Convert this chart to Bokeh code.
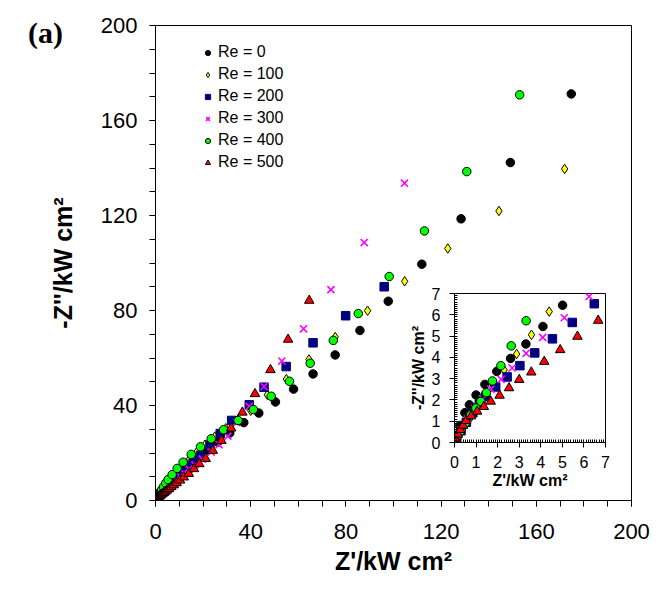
from bokeh.plotting import figure
from bokeh.models import Range1d, Legend, LegendItem, FixedTicker, Div
from bokeh.layouts import column
from bokeh.embed import file_html
from bokeh.resources import INLINE

# ---------------- data ----------------
labels = ["Re = 0", "Re = 100", "Re = 200", "Re = 300", "Re = 400", "Re = 500"]

re0_x = [0.05, 0.12, 0.25, 0.48, 0.69, 1.00, 1.41, 1.96, 2.60, 3.31, 4.10, 5.01, 6.1, 7.4, 8.9, 10.7, 12.8, 15.3,
         18.3, 21.9, 26.2, 31.2, 37.1, 43.4, 50.4, 58.0, 66.2, 75.5, 85.9, 97.8, 111.9, 128.4, 149.1, 174.7]
re0_y = [0.10, 0.35, 0.80, 1.40, 1.77, 2.23, 2.73, 3.34, 3.95, 4.63, 5.45, 6.45, 7.6, 9.0, 10.4, 12.1, 14.0, 16.1,
         18.5, 21.2, 24.6, 28.4, 32.8, 36.8, 41.5, 46.9, 53.3, 61.3, 71.6, 83.9, 99.5, 118.6, 142.3, 171.2]

re100_x = [0.15, 0.40, 0.70, 1.00, 1.35, 1.80, 2.30, 2.88, 3.57, 4.39, 5.4, 6.6, 8.0, 9.8, 11.8, 14.3, 17.3, 20.8,
           24.9, 29.5, 34.6, 40.0, 47.0, 55.0, 64.5, 75.5, 89.1, 104.7, 122.8, 144.3, 171.9]
re100_y = [0.30, 0.70, 1.10, 1.52, 2.00, 2.65, 3.41, 4.16, 5.06, 6.15, 7.4, 8.9, 10.6, 12.7, 14.9, 17.5, 20.4, 23.5,
           26.9, 30.4, 34.0, 37.8, 44.5, 51.1, 59.4, 68.8, 79.9, 92.3, 106.1, 121.9, 139.6]

re200_x = [0.10, 0.30, 0.55, 0.85, 1.15, 1.45, 1.91, 2.44, 3.03, 3.72, 4.54, 5.46, 6.48, 7.7, 9.2, 11.0, 13.2, 15.8,
           18.9, 22.9, 27.2, 32.0, 39.4, 45.6, 54.9, 66.2, 79.9, 96.1]
re200_y = [0.20, 0.55, 0.95, 1.40, 1.80, 2.18, 2.61, 3.08, 3.61, 4.21, 4.87, 5.64, 6.52, 7.7, 9.2, 11.0, 13.2, 15.8,
           19.0, 23.3, 28.2, 33.7, 40.3, 47.7, 56.4, 66.4, 77.8, 90.0]

re300_x = [0.10, 0.30, 0.60, 0.95, 1.30, 1.68, 2.16, 2.67, 3.32, 4.09, 5.09, 6.24, 7.4, 8.7, 10.2, 12.0, 14.1, 16.6,
           19.7, 23.4, 26.7, 30.4, 34.1, 39.4, 45.6, 53.1, 62.2, 73.7, 87.7, 104.6]
re300_y = [0.25, 0.60, 1.10, 1.60, 2.05, 2.51, 2.97, 3.50, 4.19, 4.94, 5.86, 6.86, 7.9, 9.0, 10.2, 11.6, 13.2, 15.0,
           17.4, 20.4, 23.5, 27.1, 32.8, 39.6, 48.0, 58.7, 72.3, 88.8, 108.6, 133.6]

re400_x = [0.10, 0.30, 0.50, 0.75, 0.99, 1.22, 1.48, 1.76, 2.15, 2.63, 3.32, 4.3, 5.3, 7.0, 9.1, 11.6, 15.0, 18.9,
           23.4, 28.6, 34.7, 41.1, 48.6, 56.3, 65.0, 74.7, 85.2, 98.2, 113.0, 130.8, 153.0]
re400_y = [0.20, 0.55, 0.90, 1.30, 1.62, 1.93, 2.34, 2.89, 3.61, 4.54, 5.72, 7.3, 8.8, 10.9, 13.5, 16.1, 19.4, 22.6,
           26.0, 29.8, 33.7, 38.3, 43.9, 50.2, 57.8, 67.4, 78.7, 94.3, 113.5, 138.5, 170.8]

re500_x = [0.08, 0.16, 0.27, 0.40, 0.54, 0.77, 1.05, 1.36, 1.68, 2.09, 2.53, 3.00, 3.56, 4.16, 4.90, 5.70, 6.66, 7.7,
           8.9, 10.3, 11.9, 14.0, 16.2, 18.4, 21.1, 24.1, 27.7, 31.8, 36.5, 41.8, 48.3, 55.7, 64.6]
re500_y = [0.15, 0.38, 0.60, 0.80, 1.02, 1.24, 1.46, 1.68, 1.93, 2.21, 2.56, 2.95, 3.30, 3.80, 4.35, 4.98, 5.73, 6.5,
           7.4, 8.5, 9.8, 11.3, 13.3, 15.4, 17.6, 21.0, 25.2, 30.4, 37.1, 44.9, 55.0, 67.8, 84.2]

main_ticks = [0, 40, 80, 120, 160, 200]
main_minor = list(range(0, 201, 10))
inset_ticks = [0, 1, 2, 3, 4, 5, 6, 7]
inset_minor = [i / 10 for i in range(0, 71)]

series = [
    (labels[0], re0_x, re0_y, dict(marker="circle", size=8.5, fill_color="black", line_color="black")),
    (labels[1], re100_x, re100_y, dict(marker="diamond", size=9.5, fill_color="#FFFF00", line_color="black")),
    (labels[2], re200_x, re200_y, dict(marker="square", size=8.5, fill_color="#000080", line_color="#000080")),
    (labels[3], re300_x, re300_y, dict(marker="x", size=10, fill_color=None, line_color="#FF00FF", line_width=1.6)),
    (labels[4], re400_x, re400_y, dict(marker="circle", size=8.5, fill_color="#00FF00", line_color="black")),
    (labels[5], re500_x, re500_y, dict(marker="triangle", size=9.5, fill_color="#FF0000", line_color="black")),
]

FONT = "Liberation Sans"
MAIN_LEFT = 155
MAIN_TOP = 25

# ---------------- main figure ----------------
p = figure(frame_width=476, frame_height=475,
           min_border_left=MAIN_LEFT, min_border_top=MAIN_TOP, min_border_right=25, min_border_bottom=88,
           x_range=Range1d(0, 200), y_range=Range1d(0, 200),
           output_backend="svg", toolbar_location=None)
p.grid.visible = False
p.outline_line_color = "black"
p.outline_line_width = 1
p.background_fill_color = "white"
p.border_fill_color = "white"

items = []
for name, xs, ys, st in series:
    r = p.scatter(xs, ys, **st)
    items.append(LegendItem(label=name, renderers=[r]))

for ax in (p.xaxis[0], p.yaxis[0]):
    ax.ticker = FixedTicker(ticks=main_ticks, minor_ticks=main_minor)
    ax.major_tick_in = 0
    ax.major_tick_out = 6
    ax.minor_tick_in = 0
    ax.minor_tick_out = 6
    ax.axis_line_color = "black"
    ax.major_tick_line_color = "black"
    ax.minor_tick_line_color = "black"
    ax.major_label_text_font = FONT
    ax.major_label_text_font_size = "22px"
    ax.major_label_text_color = "black"
    ax.axis_label_text_font = FONT
    ax.axis_label_text_font_style = "bold"
    ax.axis_label_text_font_size = "25px"
    ax.axis_label_text_color = "black"

p.xaxis.axis_label = "Z'/kW cm²"
p.yaxis.axis_label = "-Z''/kW cm²"
p.xaxis.major_label_standoff = 17
p.yaxis.major_label_standoff = 12
p.xaxis.axis_label_standoff = 5
p.yaxis.axis_label_standoff = 21

legend = Legend(items=items, location=(46, 328), padding=0, margin=0, spacing=2,
                glyph_width=13, glyph_height=13, label_height=20, label_standoff=4,
                label_text_font=FONT, label_text_font_size="16px", label_text_color="black",
                border_line_color=None, background_fill_alpha=0)
p.add_layout(legend, "center")

# ---------------- inset ----------------
q = figure(frame_width=151, frame_height=149,
           min_border_left=MAIN_LEFT, min_border_top=8, min_border_right=25, min_border_bottom=53,
           x_range=Range1d(0, 7), y_range=Range1d(0, 7),
           output_backend="svg", toolbar_location=None)
q.grid.visible = False
q.outline_line_color = "black"
q.outline_line_width = 1
q.background_fill_color = "white"
q.border_fill_alpha = 0

for name, xs, ys, st in series:
    q.scatter(xs, ys, **st)

for ax in (q.xaxis[0], q.yaxis[0]):
    ax.ticker = FixedTicker(ticks=inset_ticks, minor_ticks=inset_minor)
    ax.major_tick_in = 0
    ax.major_tick_out = 5
    ax.minor_tick_in = 3
    ax.minor_tick_out = 0
    ax.axis_line_color = "black"
    ax.major_tick_line_color = "black"
    ax.minor_tick_line_color = "black"
    ax.major_label_text_font = FONT
    ax.major_label_text_font_size = "16px"
    ax.major_label_text_color = "black"
    ax.axis_label_text_font = FONT
    ax.axis_label_text_font_style = "bold"
    ax.axis_label_text_font_size = "16px"
    ax.axis_label_text_color = "black"

q.xaxis.axis_label = "Z'/kW cm²"
q.yaxis.axis_label = "-Z''/kW cm²"
q.xaxis.major_label_standoff = 8
q.yaxis.major_label_standoff = 9
q.xaxis.axis_label_standoff = 1
q.yaxis.axis_label_standoff = 2

# inset frame left at 454, top at 293 (page pixels)
q.margin = (285 - 588, 0, 0, 454 - MAIN_LEFT)

# panel label "(a)"
tag = Div(text="(a)", width=50, height=34,
          styles={"font-family": "Liberation Serif", "font-weight": "bold", "font-size": "30px",
                  "line-height": "1", "color": "black"})
tag.margin = (18 - (285 + 8 + 149 + 53), 0, 0, 28)

layout = column(p, q, tag)
open("out.html", "w").write(file_html(layout, INLINE))
